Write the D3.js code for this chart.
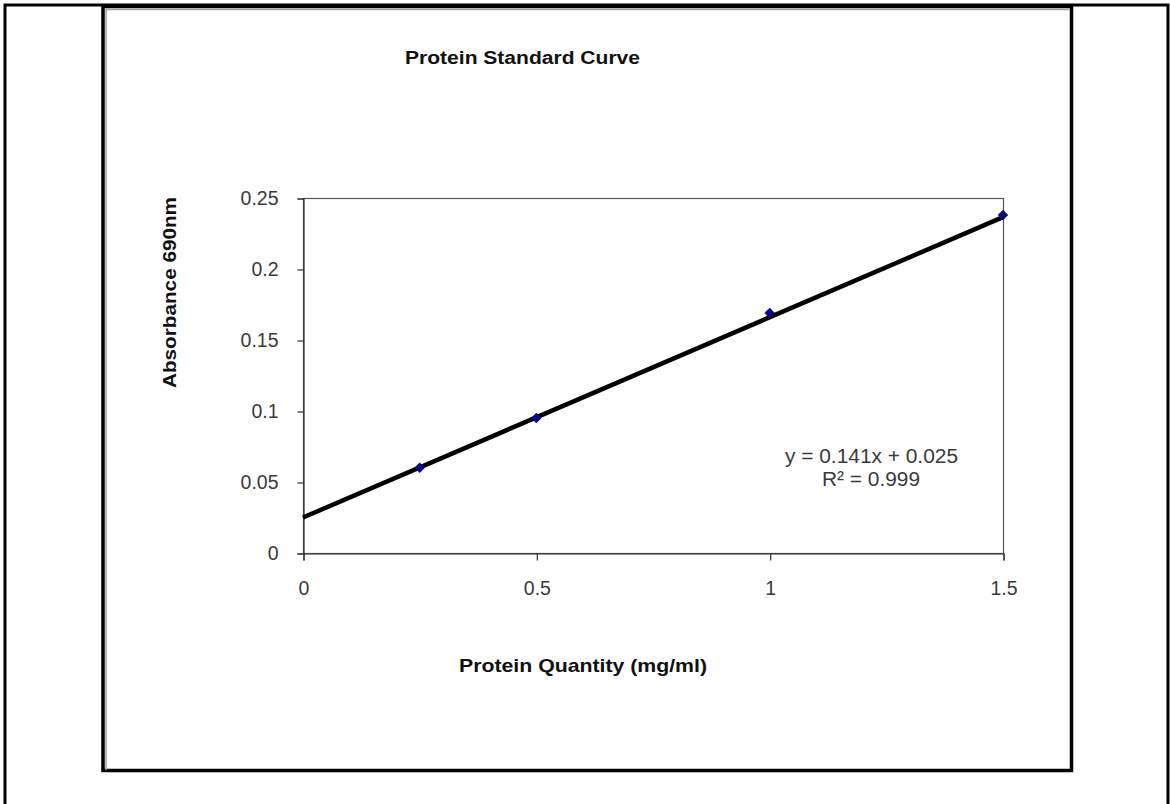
<!DOCTYPE html>
<html>
<head>
<meta charset="utf-8">
<script src="https://cdn.jsdelivr.net/npm/d3@7"></script>
<style>
  body { margin: 0; background: #fff; }
  svg text { font-family: Arial, "Liberation Sans", sans-serif; }
</style>
</head>
<body>
<div id="chart"></div>
<script>
// data
const quantity = [0.25, 0.5, 1, 1.5];
const absorbance = [0.06, 0.095, 0.169, 0.238];
const slope = 0.141;
const intercept = 0.025;
const xTicks = [0, 0.5, 1, 1.5];
const yTicks = [0, 0.05, 0.1, 0.15, 0.2, 0.25];

const W = 1170, H = 804;
const svg = d3.select("#chart").append("svg")
    .attr("width", W)
    .attr("height", H);

// outer frame (page border)
svg.append("path")
    .attr("d", "M5,804 V5 H1168 V804")
    .attr("fill", "none")
    .attr("stroke", "#000")
    .attr("stroke-width", 3);

// chart box
svg.append("rect")
    .attr("x", 103).attr("y", 6.5)
    .attr("width", 968.5).attr("height", 764)
    .attr("fill", "#fff")
    .attr("stroke", "#000")
    .attr("stroke-width", 3.5);
// grey inner edge on top/left
svg.append("path")
    .attr("d", "M106,770 V9.5 H1069")
    .attr("fill", "none")
    .attr("stroke", "#a0a0a0")
    .attr("stroke-width", 1.5);

const plot = {left: 303, top: 198, right: 1003, bottom: 553};

const x = d3.scaleLinear().domain([0, 1.5]).range([plot.left, plot.right]);
const y = d3.scaleLinear().domain([0, 0.25]).range([plot.bottom, plot.top]);

// plot frame
svg.append("rect")
    .attr("x", plot.left + 0.5).attr("y", plot.top + 0.5)
    .attr("width", plot.right - plot.left).attr("height", plot.bottom - plot.top)
    .attr("fill", "none")
    .attr("stroke", "#555")
    .attr("stroke-width", 1.2);

// axes
const xAxis = svg.append("g")
    .attr("transform", "translate(0.5," + (plot.bottom + 0.5) + ")")
    .call(d3.axisBottom(x).tickValues(xTicks).tickSize(7).tickPadding(21)
        .tickFormat(d3.format("")));
const yAxis = svg.append("g")
    .attr("transform", "translate(" + (plot.left + 0.5) + ",0.5)")
    .call(d3.axisLeft(y).tickValues(yTicks).tickSize(6).tickPadding(19)
        .tickFormat(d3.format("")));

[xAxis, yAxis].forEach(a => {
    a.select(".domain").attr("stroke", "#333").attr("stroke-width", 1.2);
    a.selectAll(".tick line").attr("stroke", "#333").attr("stroke-width", 1.2);
    a.selectAll(".tick text")
        .attr("fill", "#3a3a3a")
        .attr("font-size", 19.5)
        .style("font-family", "Arial, 'Liberation Sans', sans-serif");
});

// trend line
svg.append("line")
    .attr("x1", x(0)).attr("y1", y(intercept))
    .attr("x2", x(1.5)).attr("y2", y(slope * 1.5 + intercept))
    .attr("stroke", "#000")
    .attr("stroke-width", 4.5);

// data markers
svg.selectAll(".pt")
    .data(quantity.map((q, i) => [q, absorbance[i]]))
    .enter()
    .append("path")
    .attr("class", "pt")
    .attr("d", d3.symbol().type(d3.symbolDiamond2).size(70))
    .attr("transform", d => "translate(" + x(d[0]) + "," + y(d[1]) + ")")
    .attr("fill", "#0a0a80");

// titles
svg.append("text")
    .attr("x", 405).attr("y", 64)
    .attr("font-size", 18)
    .attr("font-weight", "bold")
    .attr("textLength", 235)
    .attr("lengthAdjust", "spacingAndGlyphs")
    .attr("fill", "#111")
    .text("Protein Standard Curve");

svg.append("text")
    .attr("x", 459).attr("y", 672)
    .attr("font-size", 19)
    .attr("font-weight", "bold")
    .attr("textLength", 248)
    .attr("lengthAdjust", "spacingAndGlyphs")
    .attr("fill", "#111")
    .text("Protein Quantity (mg/ml)");

svg.append("text")
    .attr("transform", "translate(176,388) rotate(-90)")
    .attr("font-size", 19)
    .attr("font-weight", "bold")
    .attr("textLength", 191)
    .attr("lengthAdjust", "spacingAndGlyphs")
    .attr("fill", "#111")
    .text("Absorbance 690nm");

// equation label
const eq = svg.append("text")
    .attr("font-size", 20)
    .attr("fill", "#3a3a3a");
eq.append("tspan").attr("x", 785).attr("y", 463)
    .attr("textLength", 173).attr("lengthAdjust", "spacingAndGlyphs")
    .text("y = " + slope + "x  + " + intercept.toFixed(3));
eq.append("tspan").attr("x", 822).attr("y", 486)
    .attr("textLength", 98).attr("lengthAdjust", "spacingAndGlyphs")
    .text("R² = 0.999");
</script>
</body>
</html>
